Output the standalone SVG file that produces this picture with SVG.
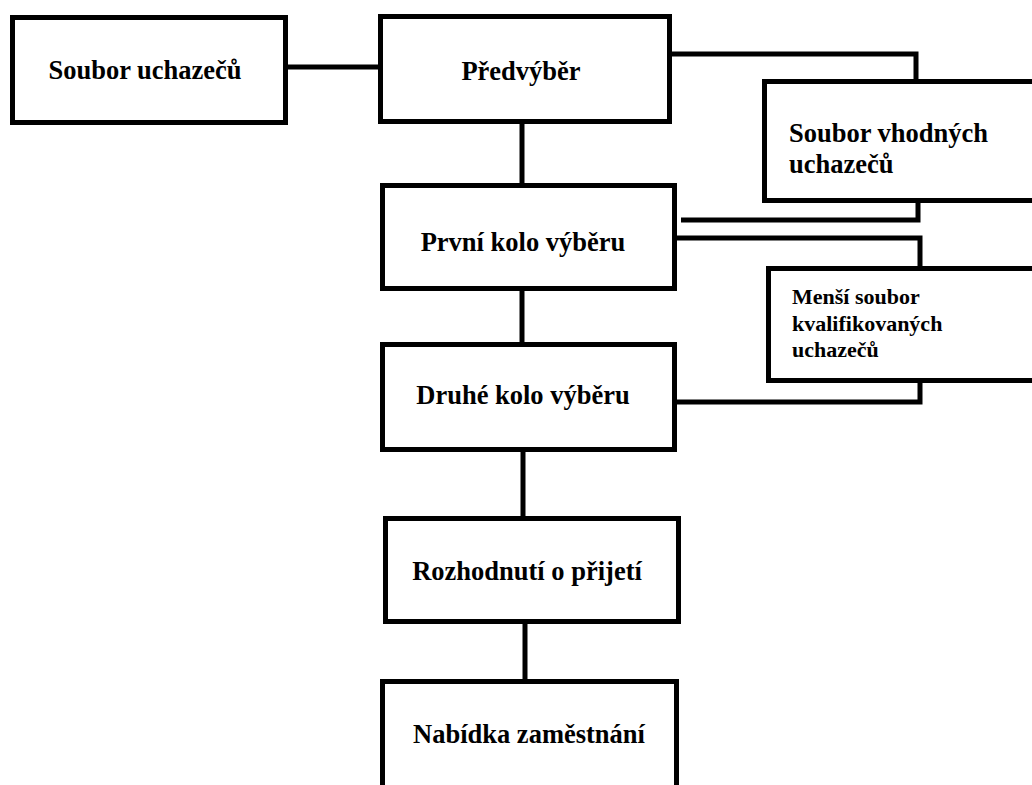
<svg xmlns="http://www.w3.org/2000/svg" width="1032" height="785" viewBox="0 0 1032 785">
<style>
.box{fill:#fff;stroke:#000;stroke-width:5}
.ln{fill:none;stroke:#000;stroke-width:5;stroke-linecap:butt;stroke-linejoin:miter}
.t{font-family:"Liberation Serif","Times New Roman",serif;font-weight:bold;font-size:26.5px;fill:#000}
.c{text-anchor:middle}
.s{font-size:22px}
</style>
<rect x="0" y="0" width="1032" height="785" fill="#fff"/>
<g id="connectors">
<path class="ln" d="M288 67H384"/>
<path class="ln" d="M670 54H916V81"/>
<path class="ln" d="M918 200V220H681"/>
<path class="ln" d="M522 121V184"/>
<path class="ln" d="M675 238H920V267"/>
<path class="ln" d="M920 381V402H675"/>
<path class="ln" d="M522 289V343"/>
<path class="ln" d="M523 450V519"/>
<path class="ln" d="M525 621V687"/>
</g>
<g id="n1"><rect class="box" x="12.5" y="17.5" width="273" height="105"/><text class="t c" x="145" y="79">Soubor uchazečů</text></g>
<g id="n2"><rect class="box" x="380.5" y="16.5" width="289" height="105"/><text class="t c" x="521" y="80">Předvýběr</text></g>
<g id="n3"><rect class="box" x="764.5" y="81.5" width="290" height="119"/><text class="t" x="789" y="142">Soubor vhodných</text><text class="t" x="789" y="173">uchazečů</text></g>
<g id="n4"><rect class="box" x="382.5" y="185.5" width="292" height="103"/><text class="t c" x="523" y="251">První kolo výběru</text></g>
<g id="n5"><rect class="box" x="768.5" y="268.5" width="290" height="112"/><text class="t s" x="792" y="304">Menší soubor</text><text class="t s" x="792" y="331">kvalifikovaných</text><text class="t s" x="792" y="357">uchazečů</text></g>
<g id="n6"><rect class="box" x="382.5" y="344.5" width="292" height="105"/><text class="t c" x="523" y="404">Druhé kolo výběru</text></g>
<g id="n7"><rect class="box" x="385.5" y="518.5" width="293" height="103"/><text class="t c" x="527" y="580">Rozhodnutí o přijetí</text></g>
<g id="n8"><rect class="box" x="382.5" y="681.5" width="294" height="120"/><text class="t c" x="529" y="743">Nabídka zaměstnání</text></g>
</svg>
